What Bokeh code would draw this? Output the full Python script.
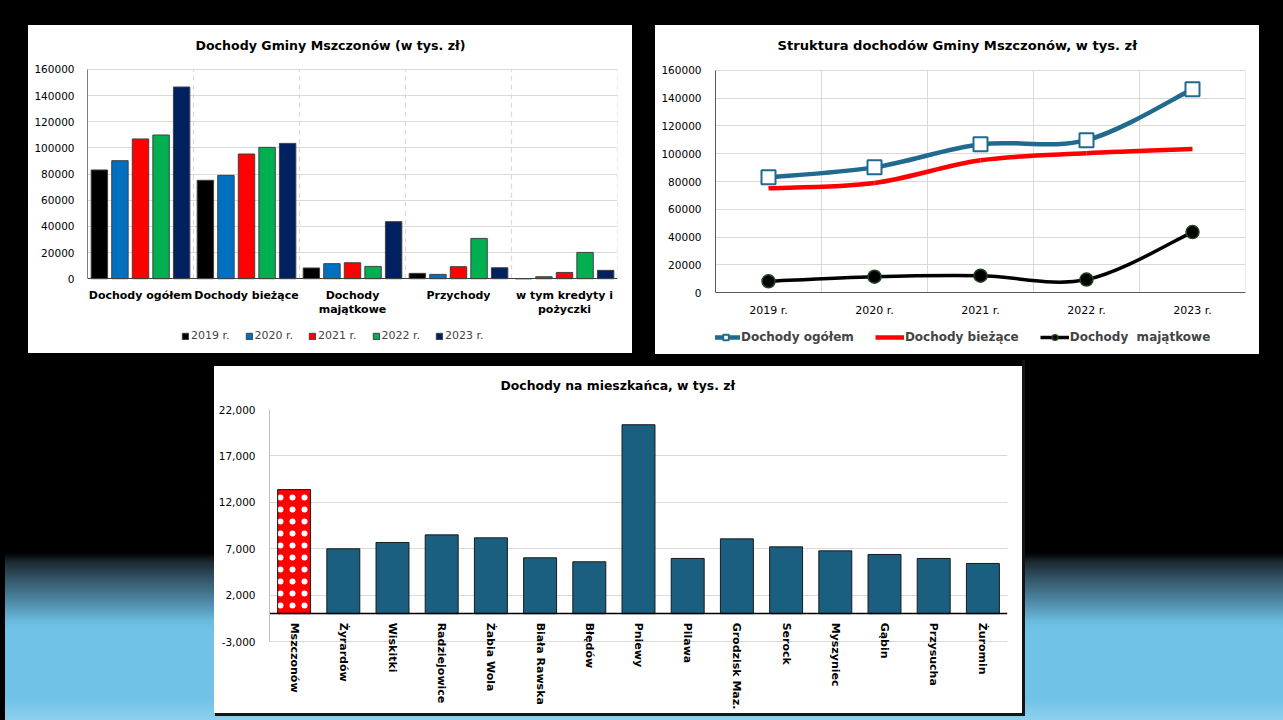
import math
from bokeh.plotting import figure
from bokeh.models import (FactorRange, Range1d, SingleIntervalTicker, FixedTicker,
                          NumeralTickFormatter, Legend, LegendItem, ColumnDataSource,
                          Spacer)
from bokeh.layouts import column, row
from bokeh.transform import dodge
from bokeh.embed import file_html
from bokeh.resources import INLINE

FONT = "DejaVu Sans"

# ---------------- data: chart 1 (grouped bars) ----------------
categories = ["Dochody ogółem", "Dochody bieżące", "Dochody\nmajątkowe",
              "Przychody", "w tym kredyty i\npożyczki"]
years = ["2019 r.", "2020 r.", "2021 r.", "2022 r.", "2023 r."]
v2019 = [83100, 75200, 8200, 4100, 0]
v2020 = [90200, 79000, 11500, 3300, 1500]
v2021 = [106800, 95300, 12200, 9200, 4800]
v2022 = [109800, 100400, 9400, 30800, 20100]
v2023 = [146500, 103400, 43600, 8400, 6400]
year_colors = ["#000000", "#0070C0", "#FF0000", "#00B050", "#002060"]
axis_max_1 = 160000

# ---------------- data: chart 2 (lines) ----------------
dochody_ogolem = [83100, 90200, 106800, 109800, 146500]
dochody_biezace = [75200, 79000, 95300, 100400, 103400]
dochody_majatkowe = [8200, 11500, 12200, 9400, 43600]
axis_max_2 = 160000

# ---------------- data: chart 3 (per capita) ----------------
gminy = ["Mszczonów", "Żyrardów", "Wiskitki", "Radziejowice", "Żabia Wola",
         "Biała Rawska", "Błędów", "Pniewy", "Pilawa", "Grodzisk Maz.",
         "Serock", "Myszyniec", "Gąbin", "Przysucha", "Żuromin"]
per_capita = [13370, 6990, 7670, 8490, 8170, 6020, 5590, 20360, 5950, 8060,
              7200, 6770, 6380, 5950, 5410]
per_capita_ticks = [-3000, 2000, 7000, 12000, 17000, 22000]

GRID = "#d9d9d9"


def base_fig(w, h, title, top_gap, standoff, title_left, font_size, **kw):
    # top_gap: transparent strip above the white card (lets the title sit higher)
    p = figure(width=w, height=h + top_gap, output_backend="svg", toolbar_location=None,
               title=title, **kw)
    p.background_fill_color = "white"
    p.border_fill_color = None
    p.styles = {"background": "linear-gradient(to bottom, rgba(0,0,0,0) 0px, "
                              f"rgba(0,0,0,0) {top_gap}px, #ffffff {top_gap}px)"}
    p.outline_line_color = None
    p.min_border_top = 0
    p.title.align = "left"
    p.title.offset = title_left
    p.title.text_font = FONT
    p.title.text_font_size = font_size
    p.title.text_font_style = "bold"
    p.title.text_color = "#000000"
    p.title.standoff = standoff
    for ax in (p.xaxis, p.yaxis):
        ax.major_label_text_font = FONT
        ax.major_label_text_color = "#000000"
        ax.major_tick_line_color = None
        ax.minor_tick_line_color = None
    p.yaxis.major_label_text_font_size = "10.5px"
    p.ygrid.grid_line_color = GRID
    p.xgrid.grid_line_color = None
    return p


# ================= chart 1 =================
# the frame extends below zero so that category labels and legend sit inside it
y1_lo = -axis_max_1 * 71 / 210
p1 = base_fig(604, 328, "Dochody Gminy Mszczonów (w tys. zł)", 5, 31, 108, "12.6px",
              x_range=FactorRange(*categories),
              y_range=Range1d(y1_lo, axis_max_1 * 1.004))
p1.min_border_left = 59
p1.min_border_right = 15
p1.min_border_bottom = 4
n = len(years)
src1 = ColumnDataSource(dict(cat=categories, y2019=v2019, y2020=v2020, y2021=v2021,
                             y2022=v2022, y2023=v2023, lo=[0] * len(categories),
                             hi=[axis_max_1] * len(categories)))
cols = ["y2019", "y2020", "y2021", "y2022", "y2023"]
step = 0.194
items1 = []
for i, (c, col, yr) in enumerate(zip(year_colors, cols, years)):
    off = (i - (n - 1) / 2) * step
    r = p1.vbar(x=dodge("cat", off, range=p1.x_range), top=col, width=0.155,
                source=src1, fill_color=c, line_color="#404040", line_width=1)
    items1.append(LegendItem(label=yr, renderers=[r]))
sep = dodge("cat", 0.5, range=p1.x_range)
p1.segment(x0=sep, y0="lo", x1=sep, y1="hi", source=src1,
           line_color=GRID, line_dash="5 4", line_width=1.2)
p1.yaxis.ticker = SingleIntervalTicker(interval=20000)
p1.yaxis.formatter = NumeralTickFormatter(format="0")
p1.yaxis.bounds = (0, axis_max_1)
p1.yaxis.axis_line_color = "#7f7f7f"
p1.yaxis.major_label_standoff = 7
p1.xaxis.fixed_location = 0
p1.xaxis.axis_line_color = "#404040"
p1.xaxis.major_label_text_font_size = "11px"
p1.xaxis.major_label_text_font_style = "bold"
p1.xaxis.major_label_text_line_height = 1.1
p1.xaxis.major_label_standoff = 4
leg1 = Legend(items=items1, orientation="horizontal", location=(94, 7),
              glyph_width=8, glyph_height=8, label_standoff=2, spacing=15,
              label_text_font=FONT, label_text_font_size="11px",
              border_line_color=None, background_fill_alpha=0, margin=0, padding=2)
p1.add_layout(leg1)

# ================= chart 2 =================
idx = list(range(len(years)))
y2_lo = -axis_max_2 * 58 / 223
p2 = base_fig(604, 329, "Struktura dochodów Gminy Mszczonów, w tys. zł", 6, 32.5, 62,
              "13.1px", x_range=Range1d(-0.5, len(years) - 0.5),
              y_range=Range1d(y2_lo, axis_max_2 * 1.004))
p2.min_border_left = 60
p2.min_border_right = 14
p2.min_border_bottom = 4
p2.yaxis.ticker = SingleIntervalTicker(interval=20000)
p2.yaxis.formatter = NumeralTickFormatter(format="0")
p2.yaxis.bounds = (0, axis_max_2)
p2.yaxis.axis_line_color = "#595959"
p2.yaxis.major_label_standoff = 8
p2.xaxis.ticker = FixedTicker(ticks=idx)
p2.xaxis.major_label_overrides = {i: y for i, y in zip(idx, years)}
p2.xaxis.major_label_text_font_size = "11px"
p2.xaxis.major_label_standoff = 5
p2.xaxis.fixed_location = 0
p2.xaxis.axis_line_color = "#595959"
bnd = ColumnDataSource(dict(x=[i + 0.5 for i in idx], lo=[0] * len(idx),
                            hi=[axis_max_2] * len(idx)))
p2.segment(x0="x", y0="lo", x1="x", y1="hi", source=bnd, line_color=GRID, line_width=1)


def smooth(xs, ys):
    m = len(xs)
    d = dict(x0=[], y0=[], x1=[], y1=[], cx0=[], cy0=[], cx1=[], cy1=[])
    for i in range(m - 1):
        a = max(i - 1, 0)
        b = min(i + 2, m - 1)
        d["x0"].append(xs[i]); d["y0"].append(ys[i])
        d["x1"].append(xs[i + 1]); d["y1"].append(ys[i + 1])
        d["cx0"].append(xs[i] + (xs[i + 1] - xs[a]) / 6)
        d["cy0"].append(ys[i] + (ys[i + 1] - ys[a]) / 6)
        d["cx1"].append(xs[i + 1] - (xs[b] - xs[i]) / 6)
        d["cy1"].append(ys[i + 1] - (ys[b] - ys[i]) / 6)
    return ColumnDataSource(d)


BLUE = "#1f6a8e"
r_og = p2.bezier(x0="x0", y0="y0", x1="x1", y1="y1", cx0="cx0", cy0="cy0",
                 cx1="cx1", cy1="cy1", source=smooth(idx, dochody_ogolem),
                 line_color=BLUE, line_width=4.5)
m_og = p2.scatter(idx, dochody_ogolem, marker="square", size=14, fill_color="white",
                  line_color=BLUE, line_width=2)
r_bi = p2.bezier(x0="x0", y0="y0", x1="x1", y1="y1", cx0="cx0", cy0="cy0",
                 cx1="cx1", cy1="cy1", source=smooth(idx, dochody_biezace),
                 line_color="#FF0000", line_width=4.5)
r_ma = p2.bezier(x0="x0", y0="y0", x1="x1", y1="y1", cx0="cx0", cy0="cy0",
                 cx1="cx1", cy1="cy1", source=smooth(idx, dochody_majatkowe),
                 line_color="#000000", line_width=3.5)
m_ma = p2.scatter(idx, dochody_majatkowe, marker="circle", size=13, fill_color="#000000",
                  line_color="#1e4620", line_width=1.5)
leg2 = Legend(items=[LegendItem(label="Dochody ogółem", renderers=[r_og, m_og]),
                     LegendItem(label="Dochody bieżące", renderers=[r_bi]),
                     LegendItem(label="Dochody  majątkowe", renderers=[r_ma, m_ma])],
              orientation="horizontal", location=(-4, 6),
              glyph_width=29, glyph_height=14, label_standoff=1, spacing=21,
              label_text_font=FONT, label_text_font_size="12px",
              label_text_font_style="bold",
              border_line_color=None, background_fill_alpha=0, margin=0, padding=2)
p2.add_layout(leg2)

# ================= chart 3 =================
span3 = per_capita_ticks[-1] - per_capita_ticks[0]
y3_lo = per_capita_ticks[0] - span3 * 71 / 232
p3 = base_fig(808, 347, "Dochody na mieszkańca, w tys. zł", 7, 33, 231, "12.4px",
              x_range=FactorRange(*gminy),
              y_range=Range1d(y3_lo, per_capita_ticks[-1]))
p3.min_border_left = 55
p3.min_border_right = 15
p3.min_border_bottom = 1
p3.styles = dict(p3.styles, **{"box-shadow": "2px 2px 0 1px #151515"})
p3.yaxis.ticker = FixedTicker(ticks=per_capita_ticks)
p3.yaxis.formatter = NumeralTickFormatter(format="0,0")
p3.yaxis.bounds = (per_capita_ticks[0], per_capita_ticks[-1])
p3.yaxis.axis_line_color = "#bfbfbf"
p3.yaxis.major_label_standoff = 8
p3.xaxis.fixed_location = 0
p3.xaxis.axis_line_color = "#000000"
p3.xaxis.axis_line_width = 1.5
p3.xaxis.major_label_orientation = -math.pi / 2
p3.xaxis.major_label_text_font_size = "11px"
p3.xaxis.major_label_text_font_style = "bold"
p3.xaxis.major_label_standoff = 3
bar_colors = ["#FF0000"] + ["#1a5e80"] * (len(gminy) - 1)
hatches = ["dot"] + [" "] * (len(gminy) - 1)
src3 = ColumnDataSource(dict(g=gminy, v=per_capita, c=bar_colors, h=hatches))
p3.vbar(x="g", top="v", width=0.67, source=src3, fill_color="c", line_color="#1a1a1a",
        line_width=1, hatch_pattern="h", hatch_color="white", hatch_scale=12,
        hatch_weight=1)

# ================= page layout =================
top_row = row(Spacer(width=28, height=335), column(Spacer(width=604, height=1), p1),
              Spacer(width=23, height=335), p2, Spacer(width=24, height=335))
bottom_row = row(Spacer(width=214, height=354), p3, Spacer(width=261, height=354))
bg = ("linear-gradient(to bottom, #000000 0px, #000000 553px, #1b2930 562px, "
      "#34586a 580px, #5391b0 605px, #6cbce0 622px, #70c2e6 630px, #70c2e6 698px, "
      "#8ecfee 720px)")
root = column(Spacer(width=1283, height=19), top_row, Spacer(width=1283, height=5),
              bottom_row, Spacer(width=1283, height=7),
              styles={"background": bg, "position": "absolute", "left": "0px",
                      "top": "0px", "box-shadow": "inset 5px 0 0 #000"})

open("out.html", "w").write(file_html(root, INLINE))
